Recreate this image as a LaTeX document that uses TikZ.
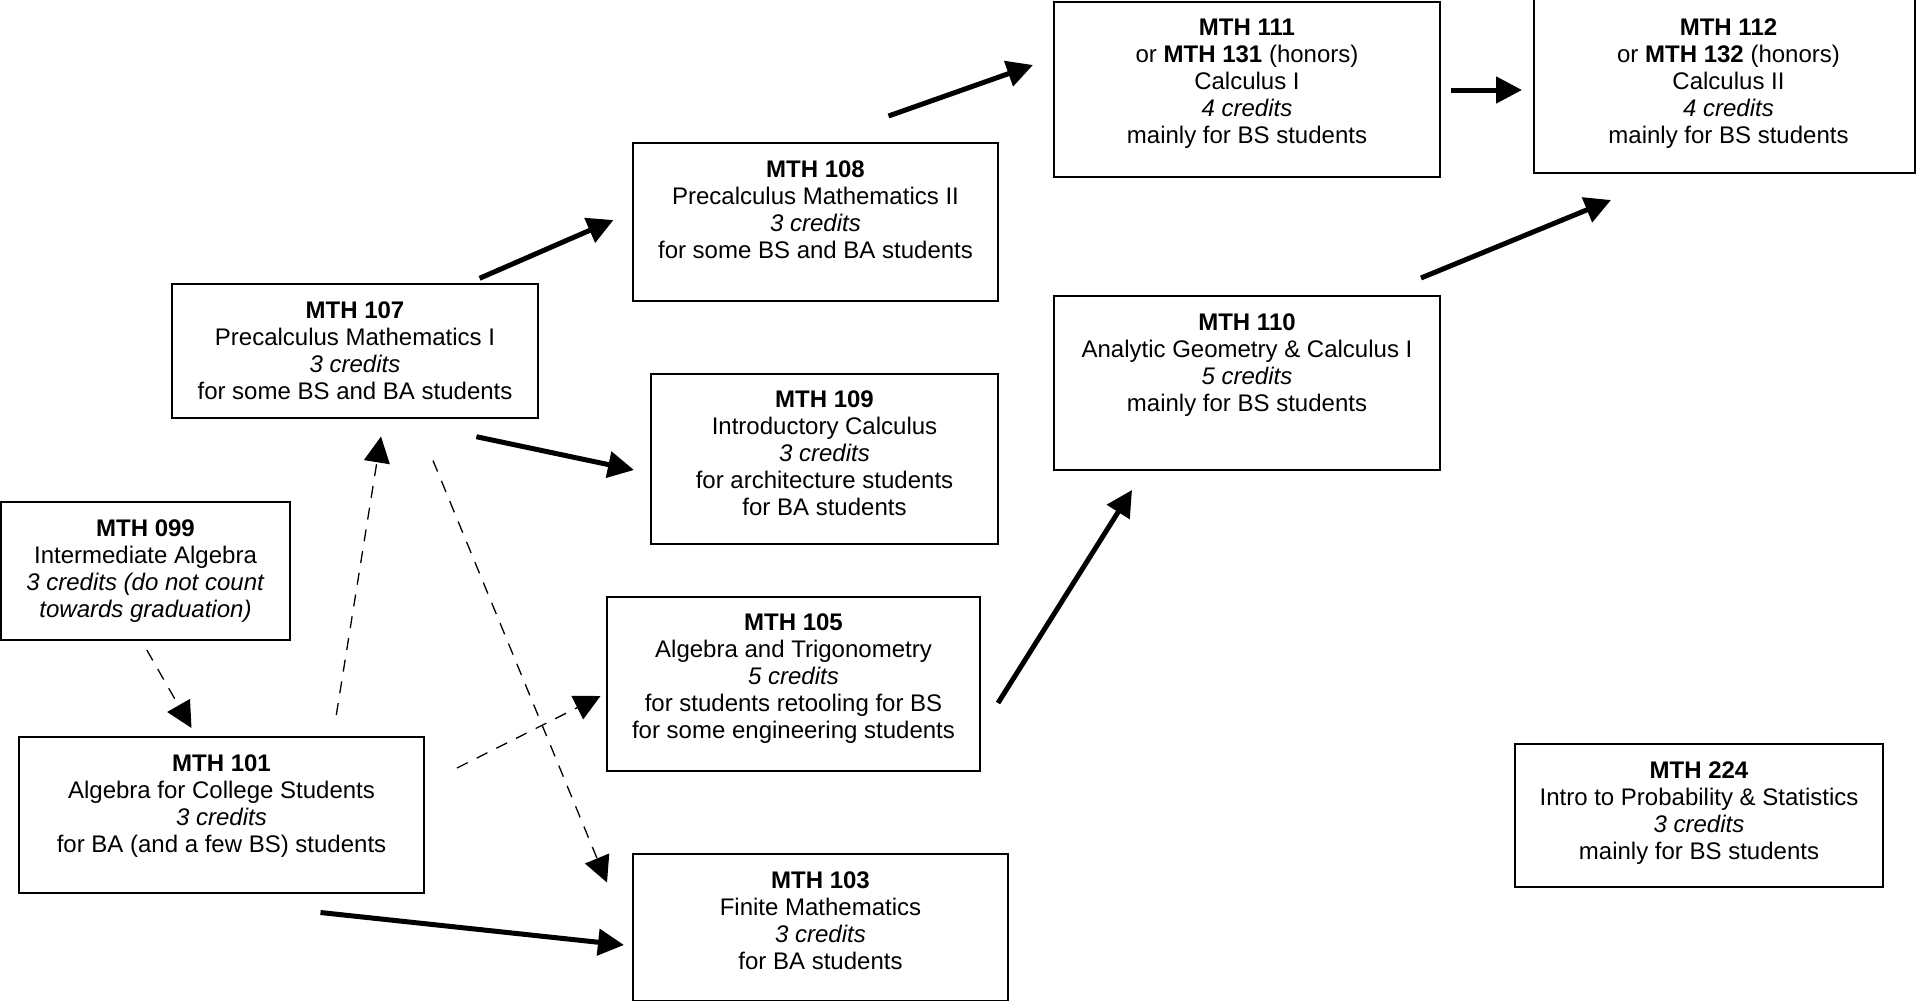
\documentclass[tikz,border=0pt]{standalone}
\usepackage{fontspec}
\setmainfont{Liberation Sans}
\usetikzlibrary{arrows.meta,calc}
\begin{document}
\begin{tikzpicture}[x=0.5pt,y=-0.5pt,
  box/.style={draw, line width=0.65pt, inner sep=0pt, outer sep=0pt, anchor=north west},
  txt/.style={align=center, inner sep=0pt, anchor=north, font=\fontsize{12}{13.5}\selectfont},
  solidarrow/.style={line width=2.5pt, -{Triangle[length=13pt,width=13pt]}},
  dasharrow/.style={line width=0.65pt, dash pattern=on 6pt off 5pt, -{Triangle[length=13pt,width=13pt]}}]
\useasboundingbox (0,0) rectangle (1919,1003);

% boxes
\node[box, minimum width=182.5pt, minimum height=79pt] (b108) at (633,143) {};
\node[txt] (t108) at ($(b108.north)+(0,17)$) {\textbf{MTH 108}\\Precalculus Mathematics II\\\textit{3 credits}\\for some BS and BA students};

\node[box, minimum width=183pt, minimum height=67pt] (b107) at (172,284) {};
\node[txt] (t107) at ($(b107.north)+(0,17)$) {\textbf{MTH 107}\\Precalculus Mathematics I\\\textit{3 credits}\\for some BS and BA students};

\node[box, minimum width=173.5pt, minimum height=85pt] (b109) at (651,374) {};
\node[txt] (t109) at ($(b109.north)+(0,16)$) {\textbf{MTH 109}\\Introductory Calculus\\\textit{3 credits}\\for architecture students\\for BA students};

\node[box, minimum width=144.5pt, minimum height=69pt] (b099) at (1,502) {};
\node[txt] (t099) at ($(b099.north)+(0,17)$) {\textbf{MTH 099}\\Intermediate Algebra\\\textit{3 credits (do not count}\\\textit{towards graduation)}};

\node[box, minimum width=202.5pt, minimum height=78pt] (b101) at (19,737) {};
\node[txt] (t101) at ($(b101.north)+(0,17)$) {\textbf{MTH 101}\\Algebra for College Students\\\textit{3 credits}\\for BA (and a few BS) students};

\node[box, minimum width=186.5pt, minimum height=87pt] (b105) at (607,597) {};
\node[txt] (t105) at ($(b105.north)+(0,16)$) {\textbf{MTH 105}\\Algebra and Trigonometry\\\textit{5 credits}\\for students retooling for BS\\for some engineering students};

\node[box, minimum width=187.5pt, minimum height=73.25pt] (b103) at (633,854) {};
\node[txt] (t103) at ($(b103.north)+(0,17)$) {\textbf{MTH 103}\\Finite Mathematics\\\textit{3 credits}\\for BA students};

\node[box, minimum width=193pt, minimum height=87pt] (b110) at (1054,296) {};
\node[txt] (t110) at ($(b110.north)+(0,17)$) {\textbf{MTH 110}\\Analytic Geometry \& Calculus I\\\textit{5 credits}\\mainly for BS students};

\node[box, minimum width=193pt, minimum height=87.5pt] (b111) at (1054,2) {};
\node[txt] (t111) at ($(b111.north)+(0,17)$) {\textbf{MTH 111}\\or \textbf{MTH 131} (honors)\\Calculus I\\\textit{4 credits}\\mainly for BS students};

\node[box, minimum width=190.5pt, minimum height=87.5pt] (b112) at (1534,-2) {};
\node[txt] (t112) at ($(b112.north)+(4,20)$) {\textbf{MTH 112}\\or \textbf{MTH 132} (honors)\\Calculus II\\\textit{4 credits}\\mainly for BS students};

\node[box, minimum width=184pt, minimum height=71.5pt] (b224) at (1515,744) {};
\node[txt] (t224) at ($(b224.north)+(0,17)$) {\textbf{MTH 224}\\Intro to Probability \& Statistics\\\textit{3 credits}\\mainly for BS students};

% arrow end points
\coordinate (a1s) at (479.6,278.3);  \coordinate (a1e) at (613.5,220);
\coordinate (a2s) at (888.5,116);    \coordinate (a2e) at (1033,65);
\coordinate (a3s) at (1451,90);      \coordinate (a3e) at (1522,90);
\coordinate (a4s) at (1421,278);     \coordinate (a4e) at (1611,200);
\coordinate (a5s) at (476.4,436.7);  \coordinate (a5e) at (634,470);
\coordinate (a6s) at (998,703);      \coordinate (a6e) at (1132,490);
\coordinate (a7s) at (320.5,912.5);  \coordinate (a7e) at (624,945);
\coordinate (d1s) at (146.8,650);    \coordinate (d1e) at (191.5,728);
\coordinate (d2s) at (336.3,715);    \coordinate (d2e) at (381,436.5);
\coordinate (d3s) at (433,460.5);    \coordinate (d3e) at (607,882.5);
\coordinate (d4s) at (457,768);      \coordinate (d4e) at (600.5,696);

\draw[solidarrow] (a1s) -- (a1e);
\draw[solidarrow] (a2s) -- (a2e);
\draw[solidarrow] (a3s) -- (a3e);
\draw[solidarrow] (a4s) -- (a4e);
\draw[solidarrow] (a5s) -- (a5e);
\draw[solidarrow] (a6s) -- (a6e);
\draw[solidarrow] (a7s) -- (a7e);
\draw[dasharrow] (d1s) -- (d1e);
\draw[dasharrow] (d2s) -- (d2e);
\draw[dasharrow] (d3s) -- (d3e);
\draw[dasharrow] (d4s) -- (d4e);
\end{tikzpicture}
\end{document}
